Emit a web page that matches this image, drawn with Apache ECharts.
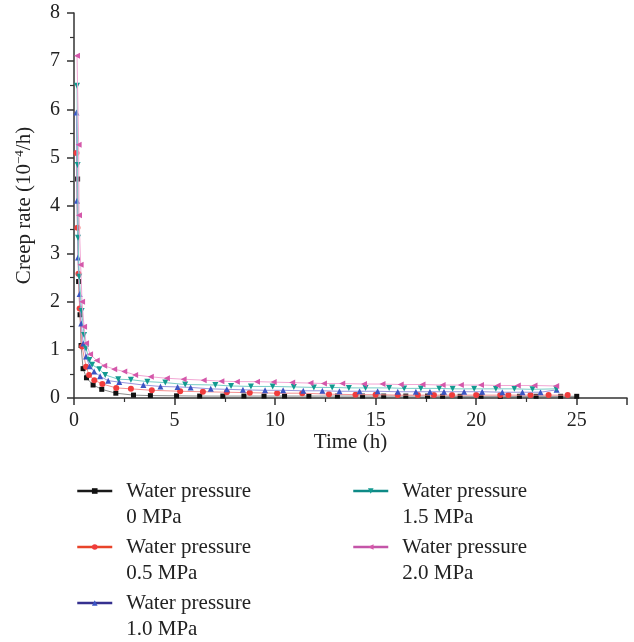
<!DOCTYPE html>
<html>
<head>
<meta charset="utf-8">
<script src="https://cdn.jsdelivr.net/npm/echarts@6/dist/echarts.min.js"></script>
<style>
  html, body { margin: 0; padding: 0; background: #fff; }
  #chart { width: 634px; height: 642px; }
</style>
</head>
<body>
<div id="chart"></div>
<script>
// series names
const names = ['Water pressure\n0 MPa', 'Water pressure\n0.5 MPa', 'Water pressure\n1.0 MPa', 'Water pressure\n1.5 MPa', 'Water pressure\n2.0 MPa']

// 0 MPa
const time0 = [0.18, 0.23, 0.3, 0.35, 0.45, 0.62, 0.95, 1.38, 2.08, 2.96, 3.8, 5.1, 6.25, 7.4, 8.45, 9.45, 10.47, 11.68, 13.1, 14.35, 15.4, 16.5, 17.58, 18.33, 19.2, 20.24, 21.2, 22.15, 22.98, 24.2, 25.0]
const rate0 = [4.55, 2.42, 1.73, 1.09, 0.61, 0.42, 0.27, 0.18, 0.1, 0.06, 0.05, 0.045, 0.04, 0.04, 0.04, 0.04, 0.04, 0.04, 0.04, 0.04, 0.04, 0.04, 0.04, 0.035, 0.035, 0.035, 0.035, 0.035, 0.035, 0.035, 0.035]
// 0.5 MPa
const time1 = [0.12, 0.17, 0.22, 0.28, 0.4, 0.6, 0.75, 1.01, 1.41, 2.1, 2.83, 3.87, 5.28, 6.41, 7.6, 8.74, 10.1, 11.35, 12.68, 14.0, 15.0, 16.1, 17.1, 17.9, 18.8, 20.0, 21.2, 21.6, 22.7, 23.6, 24.55]
const rate1 = [5.09, 3.54, 2.58, 1.86, 1.07, 0.65, 0.48, 0.37, 0.29, 0.21, 0.19, 0.16, 0.14, 0.13, 0.12, 0.11, 0.1, 0.1, 0.08, 0.07, 0.07, 0.06, 0.06, 0.06, 0.06, 0.06, 0.06, 0.06, 0.06, 0.06, 0.06]
// 1.0 MPa
const time2 = [0.12, 0.15, 0.2, 0.28, 0.36, 0.46, 0.6, 0.78, 1.0, 1.3, 1.7, 2.25, 3.45, 4.3, 5.15, 5.8, 6.8, 7.6, 8.4, 9.5, 10.4, 11.4, 12.35, 13.2, 14.2, 15.1, 16.1, 17.0, 17.7, 18.4, 19.4, 20.3, 21.3, 22.3, 23.2, 24.0]
const rate2 = [5.93, 4.1, 2.92, 2.16, 1.55, 1.13, 0.86, 0.66, 0.55, 0.45, 0.36, 0.33, 0.27, 0.24, 0.23, 0.22, 0.19, 0.18, 0.17, 0.16, 0.16, 0.15, 0.15, 0.14, 0.14, 0.14, 0.13, 0.13, 0.13, 0.13, 0.13, 0.13, 0.12, 0.12, 0.12, 0.17]
// 1.5 MPa
const time3 = [0.15, 0.18, 0.2, 0.26, 0.38, 0.5, 0.6, 0.76, 0.9, 1.26, 1.55, 2.2, 2.83, 3.65, 4.54, 5.53, 7.03, 7.81, 8.8, 9.88, 10.93, 11.93, 12.84, 13.67, 14.5, 15.67, 16.42, 17.25, 18.16, 18.83, 19.9, 20.98, 21.9, 22.8, 23.98]
const rate3 = [6.49, 4.84, 3.33, 2.52, 1.81, 1.31, 1.03, 0.79, 0.69, 0.6, 0.48, 0.39, 0.38, 0.34, 0.32, 0.28, 0.27, 0.25, 0.24, 0.24, 0.23, 0.22, 0.22, 0.21, 0.21, 0.21, 0.2, 0.2, 0.2, 0.19, 0.19, 0.19, 0.19, 0.18, 0.19]
// 2.0 MPa
const time4 = [0.15, 0.23, 0.25, 0.33, 0.4, 0.5, 0.6, 0.8, 1.13, 1.5, 2.0, 2.5, 3.04, 3.82, 4.62, 5.45, 6.45, 7.33, 8.1, 9.1, 9.93, 10.85, 11.76, 12.43, 13.34, 14.42, 15.34, 16.25, 17.33, 18.33, 19.24, 20.24, 21.07, 22.07, 22.9, 23.98]
const rate4 = [7.11, 5.26, 3.8, 2.77, 2.0, 1.48, 1.14, 0.91, 0.78, 0.67, 0.6, 0.55, 0.48, 0.44, 0.41, 0.39, 0.37, 0.35, 0.34, 0.34, 0.33, 0.32, 0.31, 0.3, 0.3, 0.29, 0.29, 0.28, 0.28, 0.27, 0.27, 0.27, 0.26, 0.26, 0.26, 0.25]

const times = [time0, time1, time2, time3, time4]
const rates = [rate0, rate1, rate2, rate3, rate4]

const markColors = ['#111111', '#f03c3c', '#3b55c4', '#129a90', '#d458aa']
const lineColors = ['#8a8a8a', '#f49090', '#9a94dc', '#78cdc6', '#f2a6d4']
const legendColors = ['#1a1a1a', '#e8442a', '#35308f', '#0e8a86', '#c455a8']
const symbols = ['rect', 'circle', 'triangle', 'triangle', 'triangle']
const rotates = [0, 0, 0, 180, 90]

const serif = 'Liberation Serif'

const chart = echarts.init(document.getElementById('chart'))

const series = []
for (let i = 0; i < names.length; i++) {
  series.push({
    name: names[i],
    type: 'line',
    data: times[i].map((t, j) => [t, rates[i][j]]),
    symbol: symbols[i],
    symbolRotate: rotates[i],
    symbolSize: i === 0 ? 5 : 6,
    showSymbol: true,
    itemStyle: { color: markColors[i] },
    lineStyle: { color: lineColors[i], width: 1 },
    z: 2 + i
  })
}

// 图例分两列，图标对齐第一行文字
const legendItem = (i) => ({
  name: names[i],
  itemStyle: { color: markColors[i] },
  lineStyle: { color: legendColors[i], width: 2.5 }
})
const legendBase = {
  orient: 'vertical',
  top: 452,
  height: 250,
  padding: 0,
  itemWidth: 35,
  itemHeight: 7,
  itemGap: -22,
  selectedMode: false,
  formatter: (name) => ' \n' + name,
  textStyle: {
    fontFamily: serif,
    fontSize: 21,
    lineHeight: 26,
    color: '#222',
    padding: [0, 0, 0, 9]
  }
}

const option = {
  animation: false,
  backgroundColor: '#fff',
  legend: [
    Object.assign({}, legendBase, { left: 76, data: [0, 1, 2].map(legendItem) }),
    Object.assign({}, legendBase, { left: 352, data: [3, 4].map(legendItem) })
  ],
  grid: {
    left: 74,
    right: 7,
    top: 13,
    bottom: 244
  },
  xAxis: {
    type: 'value',
    min: 0,
    max: 27.5,
    interval: 5,
    name: 'Time (h)',
    nameLocation: 'middle',
    nameGap: 34,
    nameMoveOverlap: false,
    nameTextStyle: { fontFamily: serif, fontSize: 21, color: '#222' },
    axisLine: { lineStyle: { color: '#333', width: 1.5 } },
    axisTick: { show: true, length: 7, lineStyle: { color: '#333', width: 1.5 } },
    minorTick: { show: true, splitNumber: 2, length: 4, lineStyle: { color: '#333', width: 1.2 } },
    axisLabel: { fontFamily: serif, fontSize: 20, color: '#222', margin: 13, showMaxLabel: false },
    splitLine: { show: false }
  },
  yAxis: {
    type: 'value',
    min: 0,
    max: 8,
    interval: 1,
    name: 'Creep rate (10{sup|−4}/h)',
    nameLocation: 'middle',
    nameGap: 38,
    nameTextStyle: {
      fontFamily: serif,
      fontSize: 21,
      color: '#222',
      rich: {
        sup: { fontFamily: serif, fontSize: 13, color: '#222', verticalAlign: 'top', padding: [0, 0, 10, 0] }
      }
    },
    axisLine: { show: true, lineStyle: { color: '#333', width: 1.5 } },
    axisTick: { show: true, length: 7, lineStyle: { color: '#333', width: 1.5 } },
    minorTick: { show: true, splitNumber: 2, length: 4, lineStyle: { color: '#333', width: 1.2 } },
    axisLabel: { fontFamily: serif, fontSize: 20, color: '#222', margin: 14 },
    splitLine: { show: false }
  },
  series: series
}

chart.setOption(option)
</script>
</body>
</html>
